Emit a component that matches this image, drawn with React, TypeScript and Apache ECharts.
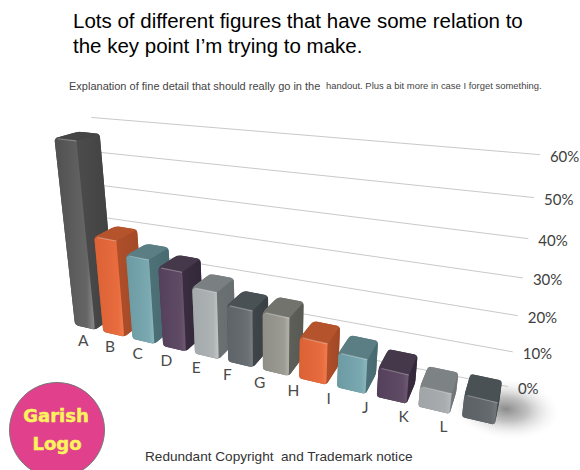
import React, { useEffect, useRef } from "react";
import * as echarts from "echarts";

const categories = ["A", "B", "C", "D", "E", "F", "G", "H", "I", "J", "K", "L"];
const shares = [56.5, 29.6, 25.7, 23.9, 19.9, 16.7, 16.8, 11.8, 9.8, 8.1, 5.6, 6.0];
const gridValues = [0, 10, 20, 30, 40, 50, 60];
const gridLabels = ["0%", "10%", "20%", "30%", "40%", "50%", "60%"];

// front: left edge, body, lighter body, sheen by the corner
const frontRamps = [
  ["#505050", "#5c5c5c", "#666666", "#858585"],
  ["#dc6135", "#e2673a", "#e86c3e", "#ee7a4c"],
  ["#6d9ba4", "#73a2ab", "#7aa9b1", "#8ab6bd"],
  ["#54405a", "#5a4660", "#604b65", "#6c5672"],
  ["#a4a9ab", "#a9aeb0", "#aeb3b4", "#c0c4c5"],
  ["#5f6469", "#63686d", "#6a6f73", "#787d81"],
  ["#8f8f88", "#95958e", "#9c9c95", "#b0b0a9"],
  ["#dc6135", "#e2673a", "#e86c3e", "#ee7a4c"],
  ["#6d9ba4", "#73a2ab", "#7aa9b1", "#8ab6bd"],
  ["#54405a", "#5a4660", "#604b65", "#6c5672"],
  ["#a0a5a7", "#a4a8aa", "#a9adaf", "#b4b8ba"],
  ["#5c6165", "#606569", "#666b6f", "#70757a"],
];
// side: next to the front, far edge
const sideRamps = [
  ["#4c4c4c", "#404040"],
  ["#b04f2a", "#a04826"],
  ["#4d7177", "#466a70"],
  ["#3a2d40", "#322639"],
  ["#6b7072", "#686d6f"],
  ["#3f464a", "#393f43"],
  ["#5e5f59", "#585953"],
  ["#b04f2a", "#a04826"],
  ["#4d7177", "#466a70"],
  ["#3a2d40", "#322639"],
  ["#747a7c", "#6f7476"],
  ["#42484b", "#3d4346"],
];
const topColors = ["#454545", "#b5532d", "#5b7e84", "#45384a", "#7a7f81", "#495155", "#72736d", "#b5532d", "#5b7e84", "#45384a", "#7d8284", "#4a5155"];

const PLOT_W = 580;
const PLOT_H = 470;
const AXIS_X = 12;
const AXIS_Y = 60;
const BAR_W = 0.72;
const WALL_LEFT = { i: 0.18, d: 1.4 };
const WALL_RIGHT = { i: 11.85, d: 1.79 };

// Vanishing points for the category, height and depth directions.
const ORIGIN = [75, 325];
const VX = { w: -0.01936, x: -1355, y: -15 };
const VH = { w: -0.00168, x: 271, y: 2105 };
const VD = { w: 0.043, x: 580, y: -10 };

function project(i: number, h: number, d: number): number[] {
  const X = ORIGIN[0] + i * VX.w * VX.x + h * VH.w * VH.x + d * VD.w * VD.x;
  const Y = ORIGIN[1] + i * VX.w * VX.y + h * VH.w * VH.y + d * VD.w * VD.y;
  const W = 1 + i * VX.w + h * VH.w + d * VD.w;
  return [X / W, Y / W];
}

// Runs a data pair through the chart's axes, then through the perspective.
function point(api: any, i: number, h: number, d: number): number[] {
  const p = api.coord([i, h]);
  return project((p[0] / PLOT_W) * AXIS_X, ((PLOT_H - p[1]) / PLOT_H) * AXIS_Y, d);
}

function roundedPath(pts: number[][], radii: number[]): string {
  const n = pts.length;
  let out = "";
  for (let k = 0; k < n; k++) {
    const p = pts[k];
    const a = pts[(k + n - 1) % n];
    const b = pts[(k + 1) % n];
    const la = Math.hypot(a[0] - p[0], a[1] - p[1]);
    const lb = Math.hypot(b[0] - p[0], b[1] - p[1]);
    const ra = Math.min(radii[k], la / 2.2);
    const rb = Math.min(radii[k], lb / 2.2);
    const s = [p[0] + ((a[0] - p[0]) * ra) / la, p[1] + ((a[1] - p[1]) * ra) / la];
    const e = [p[0] + ((b[0] - p[0]) * rb) / lb, p[1] + ((b[1] - p[1]) * rb) / lb];
    out += `${k === 0 ? "M" : "L"}${s[0].toFixed(2)} ${s[1].toFixed(2)}Q${p[0].toFixed(2)} ${p[1].toFixed(2)} ${e[0].toFixed(2)} ${e[1].toFixed(2)}`;
  }
  return out + "Z";
}

function renderBar(params: any, api: any) {
  const n = params.dataIndex;
  const idx = api.value(0);
  const v = api.value(1);
  const ramp = frontRamps[n];
  const fl0 = point(api, idx, 0, 0);
  const fr0 = point(api, idx + BAR_W, 0, 0);
  const br0 = point(api, idx + BAR_W, 0, 1);
  const fl1 = point(api, idx, v, 0);
  const fr1 = point(api, idx + BAR_W, v, 0);
  const br1 = point(api, idx + BAR_W, v, 1);
  const bl1 = point(api, idx, v, 1);
  const frontFill = new echarts.graphic.LinearGradient(0, 0, 1, 0, [
    { offset: 0, color: ramp[0] },
    { offset: 0.45, color: ramp[1] },
    { offset: 0.8, color: ramp[2] },
    { offset: 0.96, color: ramp[3] },
    { offset: 1, color: ramp[2] },
  ]);
  const sideFill = new echarts.graphic.LinearGradient(0, 0, 1, 0, [
    { offset: 0, color: sideRamps[n][0] },
    { offset: 1, color: sideRamps[n][1] },
  ]);
  return {
    type: "group",
    children: [
      { type: "path", shape: { pathData: roundedPath([fl0, fr0, br0, br1, bl1, fl1], [3, 3, 3, 3, 3, 3]) }, style: { fill: topColors[n] } },
      { type: "path", shape: { pathData: roundedPath([fr0, br0, br1, fr1], [3, 3, 4, 0]) }, style: { fill: sideFill } },
      { type: "path", shape: { pathData: roundedPath([fl1, fr1, br1, bl1], [3, 0, 4, 5]) }, style: { fill: topColors[n] } },
      { type: "path", shape: { pathData: roundedPath([fl0, fr0, fr1, fl1], [3, 3, 0, 3]) }, style: { fill: frontFill } },
      { type: "line", shape: { x1: fl1[0] + 3, y1: fl1[1] + 0.4, x2: fr1[0], y2: fr1[1] + 0.2 }, style: { stroke: "rgba(255,255,255,0.3)", lineWidth: 1.2 } },
    ],
  };
}

function renderGridLine(params: any, api: any) {
  const v = api.value(1);
  const from = point(api, WALL_LEFT.i, v, WALL_LEFT.d);
  const to = point(api, WALL_RIGHT.i, v, WALL_RIGHT.d);
  return {
    type: "group",
    children: [
      { type: "line", shape: { x1: from[0], y1: from[1], x2: to[0], y2: to[1] }, style: { stroke: "#c9c9c9", lineWidth: 1 } },
      {
        type: "text",
        style: {
          text: gridLabels[params.dataIndex],
          x: to[0] + 10,
          y: to[1] + 1,
          align: "left",
          verticalAlign: "middle",
          fill: "#404040",
          font: "15px Lato",
        },
      },
    ],
  };
}

function renderCategory(params: any, api: any) {
  const at = point(api, api.value(0) * 0.935 + 0.3, 0, 0);
  return {
    type: "text",
    style: {
      text: categories[params.dataIndex],
      x: at[0],
      y: at[1] + 13,
      align: "center",
      verticalAlign: "middle",
      fill: "#4a4a4a",
      font: "15.5px Lato",
    },
  };
}

export default function App() {
  const ref = useRef<HTMLDivElement>(null);
  useEffect(() => {
    const chart = echarts.init(ref.current!, null, { renderer: "svg" });
    chart.setOption({
      animation: false,
      backgroundColor: "#ffffff",
      grid: { left: 0, top: 0, width: PLOT_W, height: PLOT_H },
      xAxis: { type: "value", min: 0, max: AXIS_X, show: false },
      yAxis: { type: "value", min: 0, max: AXIS_Y, show: false },
      series: [
        { type: "custom", z: 2, silent: true, renderItem: renderGridLine, data: gridValues.map((v, k) => [k, v]) },
        { type: "custom", z: 3, silent: true, renderItem: renderBar, data: shares.map((v, k) => [k, v]) },
        { type: "custom", z: 4, silent: true, renderItem: renderCategory, data: categories.map((_, k) => [k, 0]) },
      ],
      graphic: [
        {
          type: "ellipse",
          z: 1,
          x: 506,
          y: 409,
          rotation: -0.1,
          shape: { cx: 0, cy: 0, rx: 54, ry: 30 },
          style: {
            fill: new echarts.graphic.RadialGradient(0.5, 0.5, 0.5, [
              { offset: 0, color: "rgba(90,90,90,0.7)" },
              { offset: 0.4, color: "rgba(130,130,130,0.5)" },
              { offset: 0.72, color: "rgba(190,190,190,0.25)" },
              { offset: 1, color: "rgba(235,235,235,0)" },
            ]),
          },
        },
        { type: "text", left: 73, top: 10, style: { text: "Lots of different figures that have some relation to", fill: "#000", font: '20.5px "Liberation Sans"' } },
        { type: "text", left: 73, top: 35, style: { text: "the key point I’m trying to make.", fill: "#000", font: '20.5px "Liberation Sans"' } },
        { type: "text", left: 69, top: 80, style: { text: "Explanation of fine detail that should really go in the", fill: "#444", font: '11px "Liberation Sans"' } },
        { type: "text", left: 326, top: 81, style: { text: "handout. Plus a bit more in case I forget something.", fill: "#444", font: '9.45px "Liberation Sans"' } },
        { type: "text", left: 145, top: 449, style: { text: "Redundant Copyright  and Trademark notice", fill: "#333", font: '13.6px "Liberation Sans"' } },
        { type: "circle", z: 5, shape: { cx: 57, cy: 430, r: 47.5 }, style: { fill: "#e0408c", stroke: "#777777", lineWidth: 1 } },
        { type: "text", z: 6, x: 56, y: 415, style: { text: "Garish", align: "center", verticalAlign: "middle", fill: "#fbf25e", stroke: "#fbf25e", lineWidth: 0.5, font: 'bold 18px "DejaVu Sans"' } },
        { type: "text", z: 6, x: 57, y: 443, style: { text: "Logo", align: "center", verticalAlign: "middle", fill: "#fbf25e", stroke: "#fbf25e", lineWidth: 0.5, font: 'bold 18px "DejaVu Sans"' } },
      ],
    });
    return () => chart.dispose();
  }, []);
  return <div ref={ref} style={{ position: "fixed", left: 0, top: 0, width: 580, height: 470 }} />;
}
